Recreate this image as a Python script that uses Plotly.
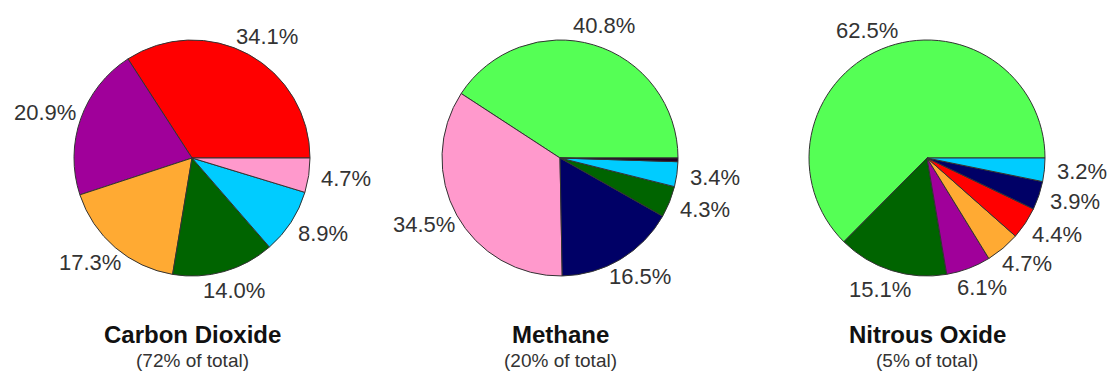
import math
import plotly.graph_objects as go

W, H = 1112, 371

# ---- data ----
co2_values = [34.1, 20.9, 17.3, 14.0, 8.9, 4.7]
co2_colors = ["#ff0000", "#a0009a", "#ffaa33", "#006400", "#00ccff", "#ff99cc"]

ch4_values = [40.8, 34.5, 16.5, 4.3, 3.4, 0.5]
ch4_colors = ["#55ff55", "#ff99cc", "#000066", "#006400", "#00ccff", "#220022"]
ch4_show = [True, True, True, True, True, False]

n2o_values = [62.5, 15.1, 6.1, 4.7, 4.4, 3.9, 3.2]
n2o_colors = ["#55ff55", "#006400", "#a0009a", "#ffaa33", "#ff0000", "#000066", "#00ccff"]

titles = ["Carbon Dioxide", "Methane", "Nitrous Oxide"]
subtitles = ["(72% of total)", "(20% of total)", "(5% of total)"]

# ---- layout (pixels) ----
centers = [(192, 158), (560, 158), (927, 158)]
R = 118
TEXT = "#333333"
FONT = "Liberation Sans, Arial, sans-serif"

fig = go.Figure()
annotations = []

series = [
    (co2_values, co2_colors, [True] * len(co2_values)),
    (ch4_values, ch4_colors, ch4_show),
    (n2o_values, n2o_colors, [True] * len(n2o_values)),
]

for (vals, cols, show), (cx, cy), title, sub in zip(series, centers, titles, subtitles):
    total = sum(vals)
    # plotly: for counterclockwise pies the first slice ends at `rotation`;
    # shift so the first slice starts at 3 o'clock and runs counterclockwise
    rot = 90 - 360 * vals[0] / total
    fig.add_trace(go.Pie(
        values=vals,
        marker=dict(colors=cols, line=dict(color="#333333", width=1)),
        sort=False,
        direction="counterclockwise",
        rotation=rot,
        textinfo="none",
        hoverinfo="percent",
        showlegend=False,
        domain=dict(x=[(cx - R) / W, (cx + R) / W],
                    y=[(H - cy - R) / H, (H - cy + R) / H]),
    ))
    cum = 0.0
    for v, s in zip(vals, show):
        mid = (cum + v / 2) / total
        cum += v
        if not s:
            continue
        ang = 2 * math.pi * mid
        px = cx + (R + 38) * math.cos(ang)
        py = cy - (R + 20) * math.sin(ang)
        annotations.append(dict(
            x=px / W, y=1 - py / H, xref="paper", yref="paper",
            text=f"{v:.1f}%", showarrow=False, xanchor="center", yanchor="middle",
            font=dict(family=FONT, size=22, color=TEXT),
        ))
    annotations.append(dict(
        x=cx / W, y=1 - 334 / H, xref="paper", yref="paper",
        text=f"<b>{title}</b>", showarrow=False, xanchor="center", yanchor="middle",
        font=dict(family=FONT, size=24, color="#111111"),
    ))
    annotations.append(dict(
        x=cx / W, y=1 - 360 / H, xref="paper", yref="paper",
        text=sub, showarrow=False, xanchor="center", yanchor="middle",
        font=dict(family=FONT, size=19, color=TEXT),
    ))

fig.update_layout(
    width=W, height=H,
    margin=dict(l=0, r=0, t=0, b=0),
    paper_bgcolor="white", plot_bgcolor="white",
    annotations=annotations,
)

fig.write_html("out.html")
